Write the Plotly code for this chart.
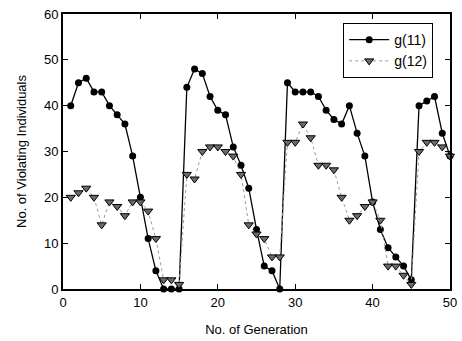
import plotly.graph_objects as go

# Generation index
generation = list(range(1, 51))

# Number of violating individuals per generation
g11 = [40, 45, 46, 43, 43, 40, 38, 36, 29, 20, 11, 4, 0, 0, 0,
       44, 48, 47, 42, 39, 38, 31, 27, 22, 13, 5, 4, 0,
       45, 43, 43, 43, 42, 39, 37, 36, 40, 34, 29, 19, 13, 9, 7, 5, 2,
       40, 41, 42, 34, 29]
g12 = [20, 21, 22, 20, 14, 19, 18, 16, 19, 19, 17, 11, 2, 2, 1,
       25, 24, 30, 31, 31, 30, 29, 25, 14, 12, 11, 7, 7,
       32, 32, 36, 33, 27, 27, 26, 20, 15, 16, 18, 19, 15, 5, 5, 3, 1,
       30, 32, 32, 31, 29]

x_ticks = [0, 10, 20, 30, 40, 50]
y_ticks = [0, 10, 20, 30, 40, 50, 60]

FONT = "Liberation Sans, Arial, sans-serif"

fig = go.Figure()
fig.add_trace(go.Scatter(
    x=generation, y=g11, name="g(11)", mode="lines+markers",
    line=dict(color="black", width=1.3),
    marker=dict(symbol="circle", size=7, color="black"),
    cliponaxis=False,
))
fig.add_trace(go.Scatter(
    x=generation, y=g12, name="g(12)", mode="lines+markers",
    line=dict(color="#9a9a9a", width=1, dash="dot"),
    marker=dict(symbol="triangle-down", size=8, color="#6a6a6a",
                line=dict(color="black", width=1)),
    cliponaxis=False,
))

axis_common = dict(
    showgrid=False, zeroline=False, showline=True, linecolor="black",
    linewidth=2, mirror="ticks", ticks="inside", ticklen=5, tickwidth=1.2,
    tickcolor="black", tickfont=dict(family=FONT, size=13, color="black"),
    automargin=False,
)

fig.update_xaxes(range=[0, 50], tickvals=x_ticks,
                 title=dict(text="No. of Generation", standoff=16,
                            font=dict(family=FONT, size=13, color="black")),
                 **axis_common)
fig.update_yaxes(range=[0, 60], tickvals=y_ticks,
                 title=dict(text="No. of Violating Individuals", standoff=14,
                            font=dict(family=FONT, size=13, color="black")),
                 **axis_common)

fig.update_layout(
    width=462, height=341, autosize=False,
    margin=dict(l=63, r=12, t=14, b=52),
    paper_bgcolor="white", plot_bgcolor="white",
    font=dict(family=FONT, size=13, color="black"),
    legend=dict(x=0.724, y=0.967, xanchor="left", yanchor="top",
                bordercolor="black", borderwidth=1, bgcolor="white",
                font=dict(family=FONT, size=14, color="black"),
                itemwidth=40, tracegroupgap=2),
    showlegend=True,
)

fig.write_html("out.html")
